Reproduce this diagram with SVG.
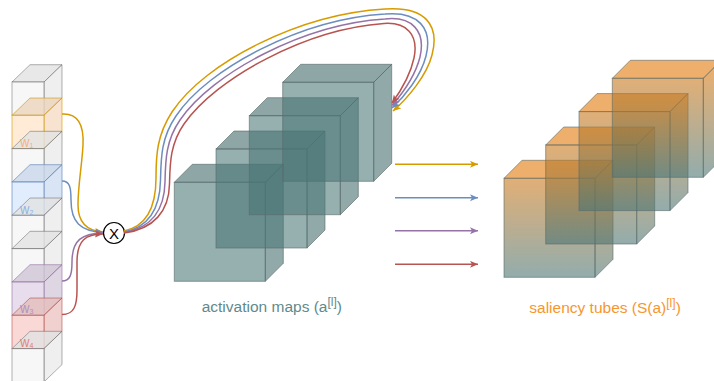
<svg xmlns="http://www.w3.org/2000/svg" width="714" height="381" viewBox="0 0 714 381">
<style>
.lbl{font-family:"Liberation Sans",Arial,sans-serif}
.wl{font-family:"Liberation Sans",Arial,sans-serif;font-size:10px}
.edge{fill:none;stroke-width:1.5}
.y{stroke:#d79b00}.b{stroke:#6c8ebf}.p{stroke:#9673a6}.r{stroke:#b85450}
.teal{fill:#4a7575;fill-opacity:0.58;stroke:#5a6a6a;stroke-opacity:0.6;stroke-width:1}
.cw{fill:#f5f5f5;fill-opacity:0.8;stroke:#666;stroke-opacity:0.5}
.co{fill:#ffe6cc;fill-opacity:0.8;stroke:#d79b00;stroke-opacity:0.6}
.cb{fill:#dae8fc;fill-opacity:0.8;stroke:#6c8ebf;stroke-opacity:0.7}
.cp{fill:#e1d5e7;fill-opacity:0.8;stroke:#9673a6;stroke-opacity:0.6}
.cr{fill:#f8cecc;fill-opacity:0.8;stroke:#b85450;stroke-opacity:0.6}
</style>
<defs>
<linearGradient id="og" gradientUnits="userSpaceOnUse" x1="0" y1="0" x2="0" y2="117">
<stop offset="0" stop-color="#e57a0a"/>
<stop offset="1" stop-color="#4a7575"/>
</linearGradient>
<g id="bigCube">
<polygon points="0,18 18,0 109,0 91,18"/>
<polygon points="91,18 109,0 109,99 91,117"/>
<rect x="0" y="18" width="91" height="99"/>
<polygon points="0,18 18,0 109,0 91,18" fill="#000" fill-opacity="0.05" stroke="none"/>
<polygon points="91,18 109,0 109,99 91,117" fill="#000" fill-opacity="0.03" stroke="none"/>
</g>
<g id="orCube">
<g fill-opacity="0.6" stroke="#5a6a6a" stroke-opacity="0.6">
<polygon points="0,18 18,0 109,0 91,18" fill="#e57a0a"/>
<polygon points="91,18 109,0 109,99 91,117" fill="url(#og)"/>
<rect x="0" y="18" width="91" height="99" fill="url(#og)"/>
</g>
</g>
<g id="cell">
<polygon points="0,17.3 18,0 50,0 32,17.3"/>
<polygon points="32,17.3 50,0 50,33.3 32,50.6"/>
<rect x="0" y="17.3" width="32" height="33.3"/>
<polygon points="0,17.3 18,0 50,0 32,17.3" fill="#000" fill-opacity="0.06" stroke="none"/>
<polygon points="32,17.3 50,0 50,33.3 32,50.6" fill="#000" fill-opacity="0.03" stroke="none"/>
</g>
<marker id="mY" markerUnits="userSpaceOnUse" markerWidth="9" markerHeight="8" refX="8" refY="3.5" orient="auto"><path d="M0,0 L8,3.5 L0,7 L2,3.5 z" fill="#d79b00"/></marker>
<marker id="mB" markerUnits="userSpaceOnUse" markerWidth="9" markerHeight="8" refX="8" refY="3.5" orient="auto"><path d="M0,0 L8,3.5 L0,7 L2,3.5 z" fill="#6c8ebf"/></marker>
<marker id="mP" markerUnits="userSpaceOnUse" markerWidth="9" markerHeight="8" refX="8" refY="3.5" orient="auto"><path d="M0,0 L8,3.5 L0,7 L2,3.5 z" fill="#9673a6"/></marker>
<marker id="mR" markerUnits="userSpaceOnUse" markerWidth="9" markerHeight="8" refX="8" refY="3.5" orient="auto"><path d="M0,0 L8,3.5 L0,7 L2,3.5 z" fill="#b85450"/></marker>
</defs>

<g id="weight-column">
<use href="#cell" class="cw" transform="translate(12,64.7)"/>
<use href="#cell" class="co" transform="translate(12,98)"/>
<use href="#cell" class="cw" transform="translate(12,131.3)"/>
<use href="#cell" class="cb" transform="translate(12,164.7)"/>
<use href="#cell" class="cw" transform="translate(12,198)"/>
<use href="#cell" class="cw" transform="translate(12,231.3)"/>
<use href="#cell" class="cp" transform="translate(12,264.7)"/>
<use href="#cell" class="cr" transform="translate(12,298)"/>
<use href="#cell" class="cw" transform="translate(12,331.3)"/>
<text class="wl" x="20" y="147" fill="#f5b07a">W<tspan font-size="7" dy="1">1</tspan></text>
<text class="wl" x="20" y="214" fill="#8daee0">W<tspan font-size="7" dy="1">2</tspan></text>
<text class="wl" x="20" y="313" fill="#ac90c0">W<tspan font-size="7" dy="1">3</tspan></text>
<text class="wl" x="20" y="346.5" fill="#e07c78">W<tspan font-size="7" dy="1">4</tspan></text>
</g>

<g id="activation-maps">
<use href="#bigCube" class="teal" transform="translate(174.3,164.3)"/>
<use href="#bigCube" class="teal" transform="translate(216,131)"/>
<use href="#bigCube" class="teal" transform="translate(249.3,97.7)"/>
<use href="#bigCube" class="teal" transform="translate(282.7,64.3)"/>
<text class="lbl" x="201.7" y="311.5" font-size="15.5" fill="#5f8a8b">activation maps (a<tspan font-size="12" dy="-6">[l]</tspan><tspan dy="6">)</tspan></text>
</g>

<g id="saliency-tubes">
<use href="#orCube" transform="translate(504,160.3)"/>
<use href="#orCube" transform="translate(545.7,127)"/>
<use href="#orCube" transform="translate(579,93.6)"/>
<use href="#orCube" transform="translate(612.3,60.3)"/>
<text class="lbl" x="529.3" y="313.3" font-size="15.5" fill="#f7962f">saliency tubes (S(a)<tspan font-size="12" dy="-6">[l]</tspan><tspan dy="6">)</tspan></text>
</g>

<g id="multiply">
<circle cx="114" cy="233" r="10.5" fill="#fff" stroke="#000" stroke-width="1.2"/>
<text class="lbl" x="114" y="238.5" font-size="15" text-anchor="middle" fill="#000">X</text>
</g>

<g id="connectors">
<path class="edge y" marker-end="url(#mY)" d="M62,114 C78,113 84,125 83,145 C82,165 78,185 78,205 C78,224 88,231 103,232"/>
<path class="edge b" marker-end="url(#mB)" d="M62,181 C70,181 71,188 71,200 C71,222 80,231 103,232.5"/>
<path class="edge p" marker-end="url(#mP)" d="M62,281 C70,281 72,275 72,262 C72,240 82,233.5 103,233"/>
<path class="edge r" marker-end="url(#mR)" d="M62,314.5 C74,314.5 77,306 77,290 L77,262 C77,240 86,234 103,234"/>

<path class="edge y" marker-end="url(#mY)" d="M124,231 C148,226 156,205 156,178 C156,155 157,135 172,112 C205,62 300,14 385,9 C425,6 440,25 432,55 C427,75 408,98 393,111"/>
<path class="edge b" marker-end="url(#mB)" d="M124,232 C150,227 160,207 160.5,180 C161,158 161,138 176,116 C208,68 302,19 385,14 C418,11 433,28 426,56 C421,76 405,96 392,108"/>
<path class="edge p" marker-end="url(#mP)" d="M124,232.5 C152,228 164.5,209 165,182 C165.5,161 165.5,141 180,120 C212,73 304,24 385,19 C412,16 426,31 420,57 C415,77 402,94 392,105.5"/>
<path class="edge r" marker-end="url(#mR)" d="M124,233 C154,229 169,211 169.5,184 C170,164 170,144 184,124 C216,78 306,29 384,23.5 C406,22 419,34 414,58 C410,77 400,92 392,103"/>

<line class="edge y" marker-end="url(#mY)" x1="395" y1="164.3" x2="478" y2="164.3"/>
<line class="edge b" marker-end="url(#mB)" x1="395" y1="197.7" x2="478" y2="197.7"/>
<line class="edge p" marker-end="url(#mP)" x1="395" y1="230.8" x2="478" y2="230.8"/>
<line class="edge r" marker-end="url(#mR)" x1="395" y1="264.3" x2="478" y2="264.3"/>
</g>
</svg>
